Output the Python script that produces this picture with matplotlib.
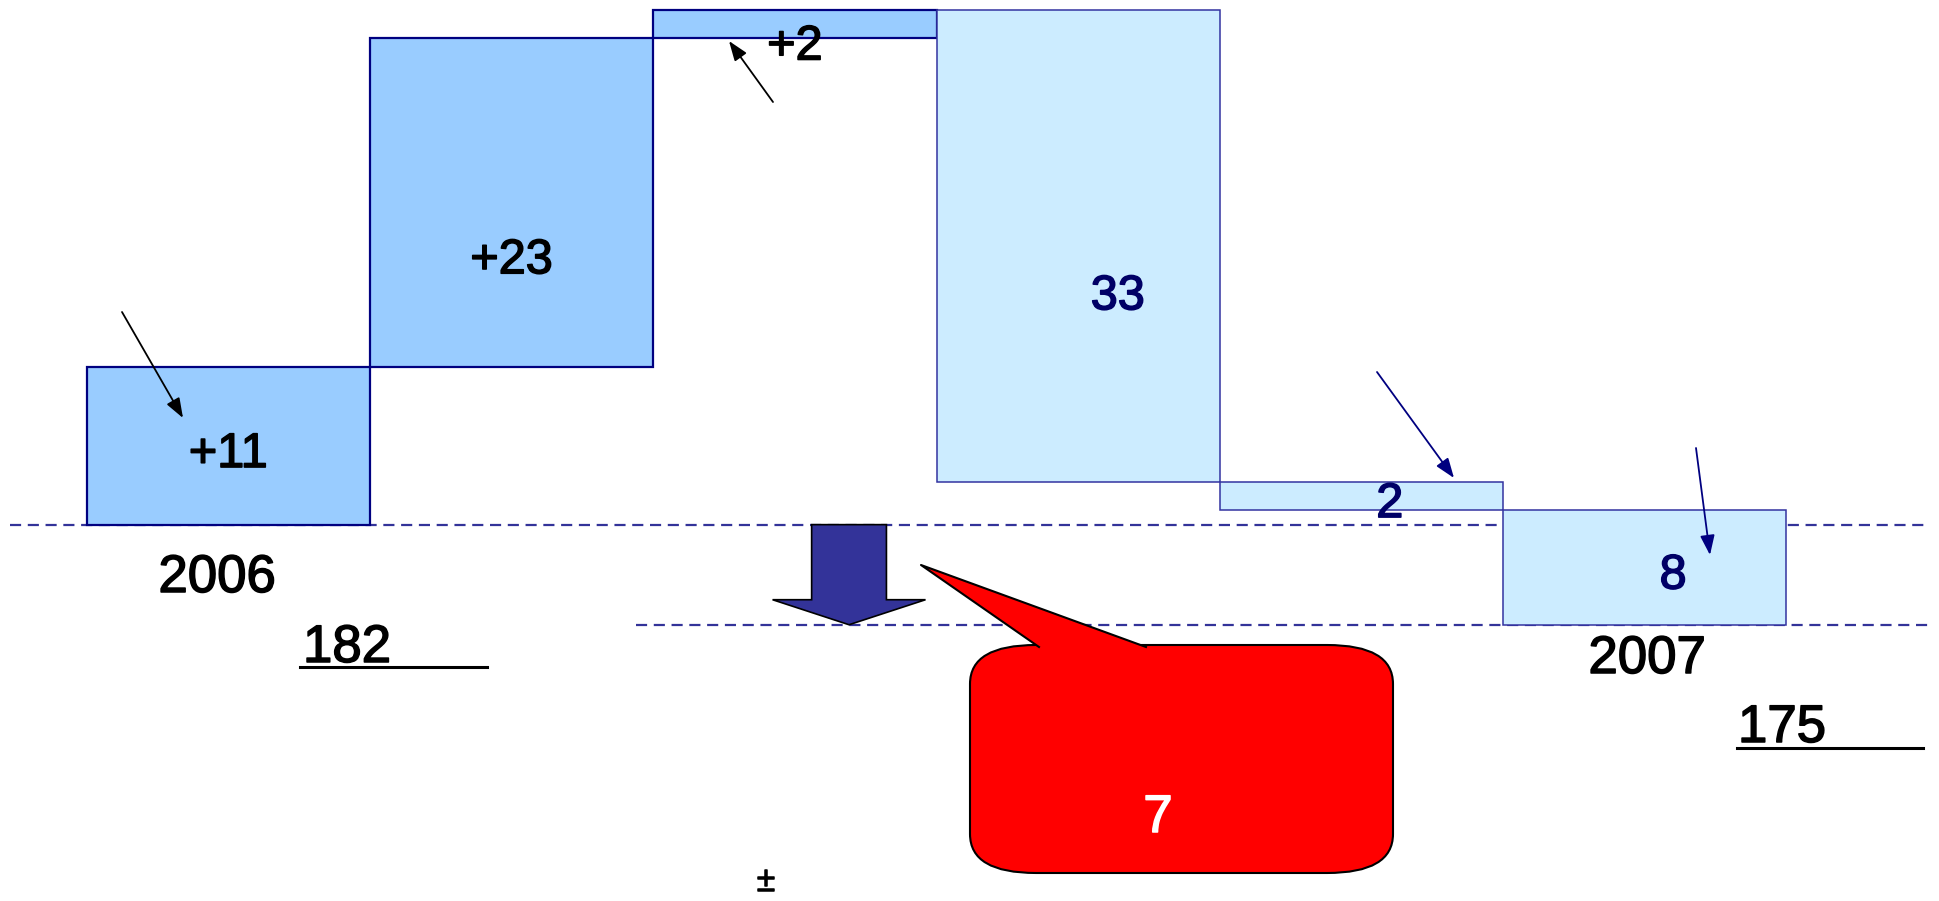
import matplotlib
matplotlib.use('Agg')
import matplotlib.pyplot as plt
import matplotlib.patheffects as pe
from matplotlib.patches import FancyBboxPatch, Polygon

# data
years = ['2006', '2007']
start_total = 182
end_total = 175
steps = [11, 23, 2, -33, -2, -8]
total_change = '7'
note = '±'

plt.rcParams['font.family'] = ['Liberation Sans', 'DejaVu Sans']

W, H = 1940, 901
fig = plt.figure(figsize=(W / 100, H / 100), dpi=100)
ax = fig.add_axes([0, 0, 1, 1])
ax.set_xlim(-0.306, 6.542)
ax.set_ylim(155.68, 218.69)
ax.axis('off')


def frac(px, py):
    # reference pixel -> axes fraction (for decorations only)
    return px / W, 1 - py / H


def heavy(col, w=1.1):
    # slightly thicker strokes, like the reference's text
    return [pe.withStroke(linewidth=w, foreground=col)]


# waterfall boxes
bottoms = []
level = start_total
for s in steps:
    bottoms.append(min(level, level + s))
    level += s
heights = [abs(s) for s in steps]
xs = list(range(len(steps)))
fills = ['#99CCFF' if s > 0 else '#CCECFF' for s in steps]
edges = ['#000080' if s > 0 else '#3333A0' for s in steps]
lws = [1.6 if s > 0 else 1.1 for s in steps]
ax.bar(xs, heights, bottom=bottoms, width=1.0, align='edge',
       color=fills, edgecolor=edges, linewidth=lws, zorder=2)

label_pos = [0.5, 0.35, 0.0, 0.41, 0.5, 0.5]
label_dx = [0.0, 0.0, 0.0, 0.14, 0.1, 0.1]
for i, s in enumerate(steps):
    txt = '+%d' % s if s > 0 else '%d' % -s
    col = 'black' if s > 0 else '#000066'
    ax.text(xs[i] + 0.5 + label_dx[i], bottoms[i] + label_pos[i] * heights[i] - 0.6,
            txt, ha='center', va='center', fontsize=35, color=col, zorder=5,
            path_effects=heavy(col))

# reference levels
ax.axhline(start_total, xmin=0.005, xmax=0.992, color='#333399', lw=1.6,
           ls=(0, (5, 3)), zorder=1)
ax.axhline(end_total, xmin=0.328, xmax=0.995, color='#333399', lw=1.6,
           ls=(0, (5, 3)), zorder=1)

# big down arrow from old total to new total
ax.arrow(2.691, start_total, 0, end_total - start_total, width=0.264,
         head_width=0.54, head_length=1.75, length_includes_head=True,
         fc='#333399', ec='black', lw=1.2, zorder=3)

# red callout
bx0, by0 = frac(970, 873)
bx1, by1 = frac(1393, 645)
box = FancyBboxPatch((bx0, by0), bx1 - bx0, by1 - by0,
                     boxstyle='round,pad=0,rounding_size=0.034',
                     mutation_aspect=1.27, transform=ax.transAxes,
                     fc='#FF0000', ec='black', lw=1.5, zorder=4)
ax.add_patch(box)
tip = frac(921, 565)
bl = frac(1039, 647)
br = frac(1146, 647)
bl2 = frac(1039, 652)
br2 = frac(1146, 652)
ax.add_patch(Polygon([bl2, bl, tip, br, br2], closed=True, fc='#FF0000',
                     ec='none', transform=ax.transAxes, zorder=5))
ax.plot([bl[0], tip[0], br[0]], [bl[1], tip[1], br[1]], color='black', lw=1.5,
        transform=ax.transAxes, zorder=5)
ax.text(*frac(1158, 832), total_change, ha='center', va='baseline', fontsize=38,
        color='white', zorder=6, transform=ax.transAxes,
        path_effects=heavy('white'))
ax.text(*frac(766, 891), note, ha='center', va='baseline', fontsize=25,
        color='black', transform=ax.transAxes, path_effects=heavy('black'))

# pointer arrows
arrows = [((122, 312), (183, 418), 'black'),
          ((773, 102), (729, 41), 'black'),
          ((1377, 372), (1454, 478), '#000080'),
          ((1696, 448), (1710, 555), '#000080')]
for tail, head, col in arrows:
    ax.annotate('', xy=frac(*head), xytext=frac(*tail),
                xycoords='axes fraction', textcoords='axes fraction',
                arrowprops=dict(arrowstyle='-|>,head_length=0.6,head_width=0.22',
                                color=col, lw=1.3, mutation_scale=20,
                                shrinkA=0, shrinkB=0), zorder=6)

# year captions and totals
ax.text(*frac(217, 592), years[0], ha='center', va='baseline', fontsize=38,
        transform=ax.transAxes, path_effects=heavy('black'))
ax.text(*frac(303, 662), str(start_total), ha='left', va='baseline', fontsize=38,
        transform=ax.transAxes, path_effects=heavy('black'))
ax.plot([300 / W, 487 / W], [1 - 667 / H] * 2, color='black', lw=2.2,
        transform=ax.transAxes)
ax.text(*frac(1647, 673), years[1], ha='center', va='baseline', fontsize=38,
        transform=ax.transAxes, path_effects=heavy('black'))
ax.text(*frac(1738, 742), str(end_total), ha='left', va='baseline', fontsize=38,
        transform=ax.transAxes, path_effects=heavy('black'))
ax.plot([1737 / W, 1923 / W], [1 - 748 / H] * 2, color='black', lw=2.2,
        transform=ax.transAxes)

fig.savefig('out.png', dpi=100, facecolor='white')
